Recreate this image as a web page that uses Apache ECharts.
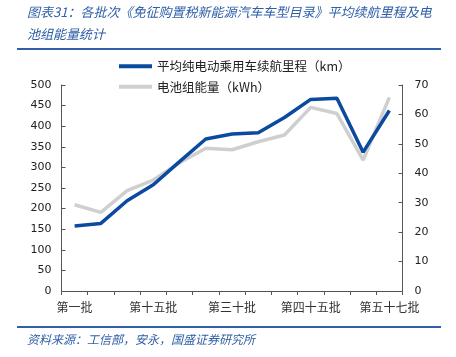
<!DOCTYPE html>
<html><head><meta charset="utf-8">
<script src="https://cdn.jsdelivr.net/npm/echarts@6/dist/echarts.min.js"></script>
<style>html,body{margin:0;padding:0;background:#fff}#c{width:456px;height:357px}</style>
</head><body><div id="c"></div>
<script>
var categories = ['第一批','第五批','第十批','第十五批','第二十批','第二十五批','第三十批','第三十五批','第四十批','第四十五批','第五十批','第五十四批','第五十七批'];
var rangeKm = [158,164,219,258,314,369,381,384,421,465,468,337,438];
var energyKWh = [29.3,26.7,34.1,37.7,43.6,48.5,48.0,50.7,53.0,62.4,60.3,44.5,65.8];
var leftTicks = [0,500,50];
var rightTicks = [0,70,10];
var seriesNames = ['平均纯电动乘用车续航里程（km）','电池组能量（kWh）'];
var titleLines = ['图表31：各批次《免征购置税新能源汽车车型目录》平均续航里程及电','池组能量统计'];
var sourceText = '资料来源：工信部，安永，国盛证券研究所';

var chart = echarts.init(document.getElementById('c'), null, {renderer:'canvas'});
var blue = '#0b4a9e', gray = '#cfcfcf', txtBlue = '#2f5fa8';
var axisFont = {fontFamily:'DejaVu Sans', fontSize:11, color:'#222'};
chart.setOption({
  animation:false,
  graphic:[
    {type:'text', left:27, top:6, style:{text:titleLines[0], font:'italic 13px "Noto Sans CJK SC"', fill:txtBlue}},
    {type:'text', left:27, top:28, style:{text:titleLines[1], font:'italic 13px "Noto Sans CJK SC"', fill:txtBlue}},
    {type:'line', shape:{x1:17,y1:49,x2:441,y2:49}, style:{stroke:'#2f5fa8', lineWidth:2}},
    {type:'line', shape:{x1:17,y1:327,x2:441,y2:327}, style:{stroke:'#2f5fa8', lineWidth:2}},
    {type:'text', left:27, top:333, style:{text:sourceText, font:'italic 12px "Noto Sans CJK SC"', fill:txtBlue}}
  ],
  legend:{
    orient:'vertical', left:114, top:55, itemWidth:33, itemHeight:4, itemGap:8,
    textStyle:{fontFamily:'Noto Sans CJK SC', fontSize:12.5, color:'#222'},
    data:[{name:seriesNames[0], icon:'rect'},{name:seriesNames[1], icon:'rect'}]
  },
  grid:{left:61.5, right:53.5, top:85, bottom:66, containLabel:false},
  xAxis:{
    type:'category', data:categories, boundaryGap:true,
    axisLine:{lineStyle:{color:'#555', width:1}},
    axisTick:{show:true, interval:0, length:4, inside:false, lineStyle:{color:'#555'}},
    axisLabel:{interval:2, fontFamily:'Noto Sans CJK SC', fontSize:12, color:'#333', margin:10}
  },
  yAxis:[
    {type:'value', min:leftTicks[0], max:leftTicks[1], interval:leftTicks[2],
     axisLine:{show:true, lineStyle:{color:'#555'}}, axisTick:{show:true, length:4, inside:true, lineStyle:{color:'#555'}},
     splitLine:{show:false}, axisLabel:Object.assign({margin:10}, axisFont)},
    {type:'value', min:rightTicks[0], max:rightTicks[1], interval:rightTicks[2], position:'right',
     axisLine:{show:true, lineStyle:{color:'#555'}}, axisTick:{show:true, length:4, inside:true, lineStyle:{color:'#555'}},
     splitLine:{show:false}, axisLabel:Object.assign({margin:12}, axisFont)}
  ],
  series:[
    {name:seriesNames[1], type:'line', yAxisIndex:1, data:energyKWh, symbol:'none', lineStyle:{color:gray, width:3.5}, itemStyle:{color:gray}, z:2},
    {name:seriesNames[0], type:'line', yAxisIndex:0, data:rangeKm, symbol:'none', lineStyle:{color:blue, width:3.5}, itemStyle:{color:blue}, z:3}
  ]
});
</script></body></html>
